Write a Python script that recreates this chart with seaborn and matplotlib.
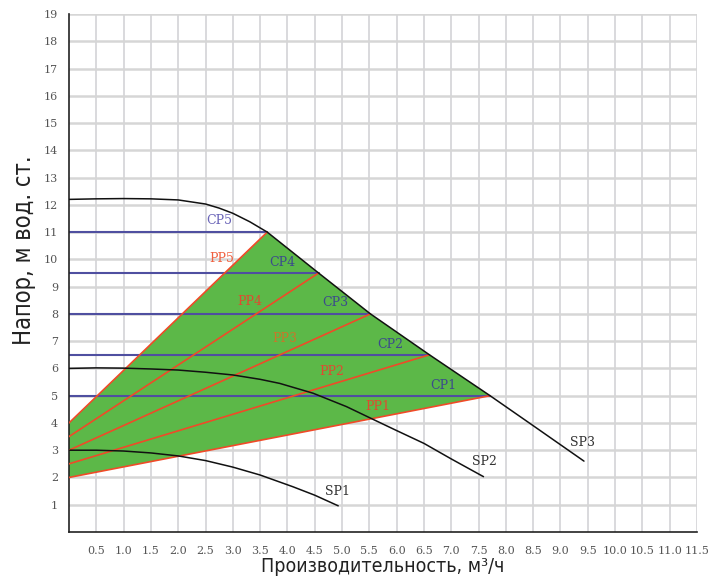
import numpy as np
import pandas as pd
import seaborn as sns
import matplotlib
matplotlib.use("Agg")
import matplotlib.pyplot as plt

# pump curves (flow m3/h, head m)
sp3_q = [0, 0.5, 1.0, 1.5, 2.0, 2.5, 2.75, 3.0, 3.31, 3.63, 4.57, 5.52, 6.6, 7.71, 8.5, 9.43]
sp3_h = [12.2, 12.22, 12.23, 12.22, 12.18, 12.03, 11.88, 11.69, 11.38, 11.0, 9.5, 8.0, 6.5, 5.0, 3.9, 2.6]
sp2_q = [0, 0.5, 1.0, 1.5, 2.0, 2.5, 3.0, 3.5, 3.86, 4.47, 5.08, 5.57, 6.0, 6.5, 7.0, 7.59]
sp2_h = [6.0, 6.02, 6.01, 5.98, 5.94, 5.86, 5.76, 5.6, 5.45, 5.09, 4.6, 4.13, 3.72, 3.25, 2.68, 2.03]
sp1_q = [0, 0.5, 1.0, 1.5, 2.0, 2.5, 3.0, 3.5, 4.1, 4.5, 4.93]
sp1_h = [3.0, 3.0, 2.97, 2.9, 2.79, 2.62, 2.38, 2.09, 1.66, 1.35, 0.96]

# proportional pressure lines: start head at q=0, end on SP3
pp_names = ["PP1", "PP2", "PP3", "PP4", "PP5"]
pp_h0 = [2.0, 2.5, 3.0, 3.5, 4.0]
# constant pressure lines end on SP3
cp_names = ["CP1", "CP2", "CP3", "CP4", "CP5"]
cp_h = [5.0, 6.5, 8.0, 9.5, 11.0]
cp_q_end = [7.71, 6.6, 5.52, 4.57, 3.63]

# label positions
cp_lbl_q = [6.85, 5.88, 4.87, 3.9, 2.75]
cp_lbl_h = [5.39, 6.86, 8.4, 9.87, 11.41]
pp_lbl_q = [5.66, 4.82, 3.96, 3.31, 2.8]
pp_lbl_h = [4.59, 5.87, 7.08, 8.44, 10.05]
sp_names = ["SP1", "SP2", "SP3"]
sp_lbl_q = [4.91, 7.6, 9.4]
sp_lbl_h = [1.47, 2.6, 3.3]

sns.set_style("white")
plt.rcParams["font.family"] = ["DejaVu Serif"]

fig = plt.figure(figsize=(7.24, 5.84), dpi=100)
ax = fig.add_axes([69 / 724, 1 - 532 / 584, (697 - 69) / 724, (532 - 14) / 584])

for q in np.arange(0.5, 11.51, 0.5):
    ax.axvline(q, color="#cfcfd3", lw=1.1, zorder=0)
for h in range(1, 20):
    ax.axhline(h, color="#d6d6d6", lw=1.8, zorder=0)

# green working area
sp3 = pd.DataFrame({"q": sp3_q, "h": sp3_h})
arc = sp3[(sp3.q >= cp_q_end[-1]) & (sp3.q <= cp_q_end[0])].iloc[::-1]
poly_q = [0, cp_q_end[0]] + list(arc.q) + [0]
poly_h = [pp_h0[0], cp_h[0]] + list(arc.h) + [pp_h0[-1]]
ax.fill(poly_q, poly_h, color="#5cb848", lw=0, zorder=1)

for name, h, qe in zip(cp_names, cp_h, cp_q_end):
    ax.plot([0, qe], [h, h], color="#4f4fa0", lw=1.5, zorder=2)
for name, h0, qe, he in zip(pp_names, pp_h0, cp_q_end, cp_h):
    ax.plot([0, qe], [h0, he], color="#f04a28", lw=1.2, zorder=3)

for q, h in [(sp1_q, sp1_h), (sp2_q, sp2_h), (sp3_q, sp3_h)]:
    d = pd.DataFrame({"q": q, "h": h})
    sns.lineplot(data=d, x="q", y="h", ax=ax, color="#111111", lw=1.1,
                 sort=False, estimator=None, zorder=4)

fs = 9
for name, q, h in zip(cp_names, cp_lbl_q, cp_lbl_h):
    c = "#6a64b8" if name == "CP5" else "#3c4a8c"
    ax.text(q, h, name, color=c, fontsize=fs, ha="center", va="center", zorder=5)
for name, q, h in zip(pp_names, pp_lbl_q, pp_lbl_h):
    c = "#f06040" if name == "PP5" else ("#c8782a" if name == "PP3" else "#e04a30")
    ax.text(q, h, name, color=c, fontsize=fs, ha="center", va="center", zorder=5)
for name, q, h in zip(sp_names, sp_lbl_q, sp_lbl_h):
    ax.text(q, h, name, color="#333333", fontsize=fs, ha="center", va="center", zorder=5)

ax.set_xlim(0, 11.5)
ax.set_ylim(0, 19)
ax.set_xticks(np.arange(0, 11.51, 0.5))
ax.set_xticklabels([""] + [f"{v:.1f}" for v in np.arange(0.5, 11.51, 0.5)])
ax.set_yticks(range(0, 20))
ax.set_yticklabels([""] + [str(v) for v in range(1, 20)])
ax.tick_params(axis="both", direction="out", length=5, width=1, color="#333333",
               labelsize=8, labelcolor="#555555", pad=3)
ax.tick_params(axis="x", pad=5)
for s in ["top", "right"]:
    ax.spines[s].set_visible(False)
for s in ["left", "bottom"]:
    ax.spines[s].set_color("#222222")
    ax.spines[s].set_linewidth(1.2)

lbl_font = ["DejaVu Sans"]
ax.set_xlabel("Производительность, м³/ч", fontsize=14, family=lbl_font,
              stretch="condensed", color="#222222")
ax.set_ylabel("Напор, м вод. ст.", fontsize=17, family=lbl_font,
              stretch="condensed", color="#222222")
ax.xaxis.set_label_coords(0.5, -0.048)
ax.yaxis.set_label_coords(-0.053, 0.545)

fig.savefig("out.png", dpi=100)
